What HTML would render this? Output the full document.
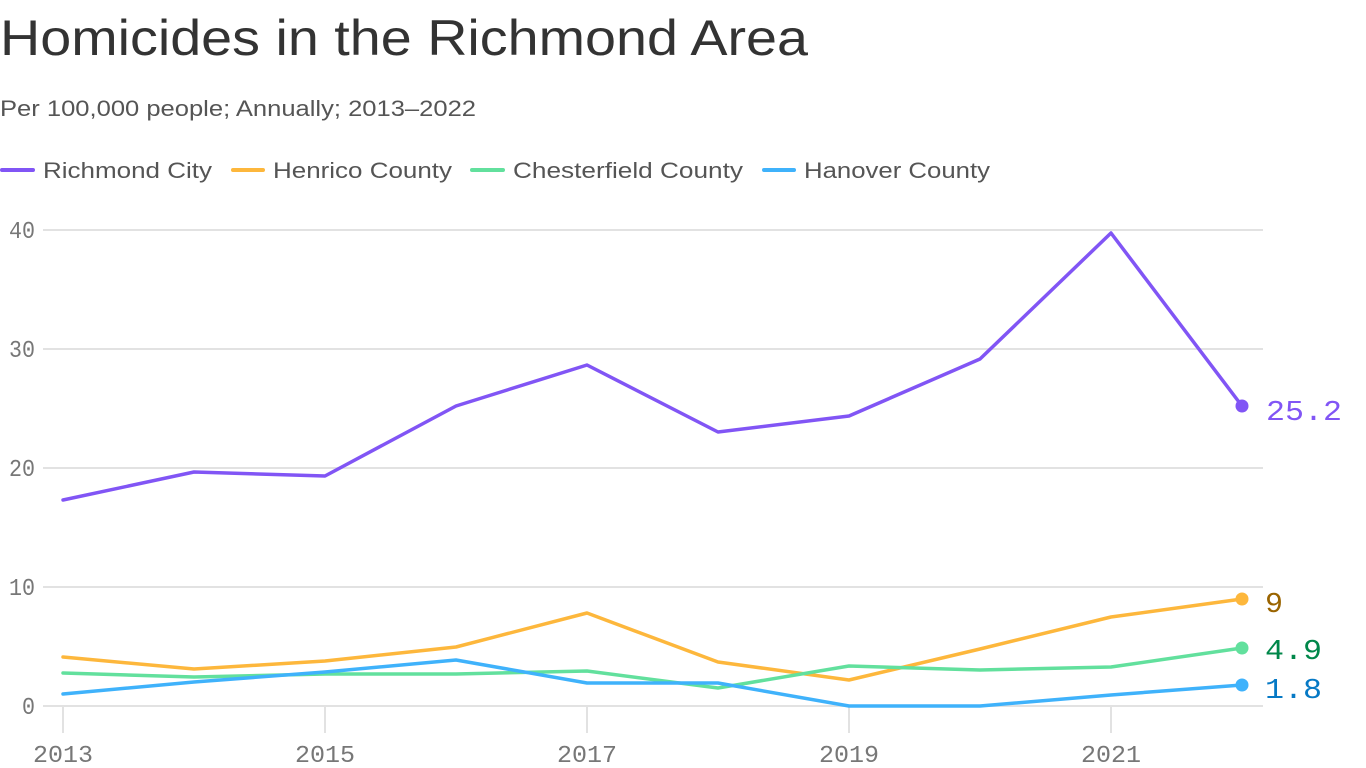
<!DOCTYPE html>
<html><head><meta charset="utf-8"><style>
html,body{margin:0;padding:0;background:#fff;}
svg{display:block;}
</style></head><body>
<svg width="1366" height="768" xmlns="http://www.w3.org/2000/svg">
<g font-family="Liberation Sans, sans-serif" fill="#333">
<text x="0" y="55" font-size="50" textLength="808" lengthAdjust="spacingAndGlyphs">Homicides in the Richmond Area</text>
<text x="0" y="116" font-size="22" fill="#555" textLength="476" lengthAdjust="spacingAndGlyphs">Per 100,000 people; Annually; 2013–2022</text>
<g font-size="22" fill="#555">
<line x1="2" y1="170" x2="33" y2="170" stroke="#8155f5" stroke-width="4" stroke-linecap="round"/>
<text x="43" y="178" textLength="169" lengthAdjust="spacingAndGlyphs">Richmond City</text>
<line x1="233" y1="170" x2="263" y2="170" stroke="#fdb73c" stroke-width="4" stroke-linecap="round"/>
<text x="273" y="178" textLength="179" lengthAdjust="spacingAndGlyphs">Henrico County</text>
<line x1="472" y1="170" x2="503" y2="170" stroke="#62e09d" stroke-width="4" stroke-linecap="round"/>
<text x="513" y="178" textLength="230" lengthAdjust="spacingAndGlyphs">Chesterfield County</text>
<line x1="764" y1="170" x2="794" y2="170" stroke="#3fb2fb" stroke-width="4" stroke-linecap="round"/>
<text x="804" y="178" textLength="186" lengthAdjust="spacingAndGlyphs">Hanover County</text>
</g>
</g>
<g stroke="#e2e2e2" stroke-width="2">
<line x1="43" y1="230" x2="1263" y2="230"/>
<line x1="43" y1="349" x2="1263" y2="349"/>
<line x1="43" y1="468" x2="1263" y2="468"/>
<line x1="43" y1="587" x2="1263" y2="587"/>
<line x1="43" y1="706" x2="1263" y2="706"/>
<line x1="63" y1="706" x2="63" y2="733"/>
<line x1="325" y1="706" x2="325" y2="733"/>
<line x1="587" y1="706" x2="587" y2="733"/>
<line x1="849" y1="706" x2="849" y2="733"/>
<line x1="1111" y1="706" x2="1111" y2="733"/>
</g>
<g font-family="Liberation Mono, monospace" font-size="24" fill="#777">
<text x="9" y="238" textLength="26" lengthAdjust="spacingAndGlyphs">40</text>
<text x="9" y="357" textLength="26" lengthAdjust="spacingAndGlyphs">30</text>
<text x="9" y="476" textLength="26" lengthAdjust="spacingAndGlyphs">20</text>
<text x="9" y="595" textLength="26" lengthAdjust="spacingAndGlyphs">10</text>
<text x="22" y="714" textLength="13" lengthAdjust="spacingAndGlyphs">0</text>
<text x="33" y="762" textLength="60" lengthAdjust="spacingAndGlyphs">2013</text>
<text x="295" y="762" textLength="60" lengthAdjust="spacingAndGlyphs">2015</text>
<text x="557" y="762" textLength="60" lengthAdjust="spacingAndGlyphs">2017</text>
<text x="819" y="762" textLength="60" lengthAdjust="spacingAndGlyphs">2019</text>
<text x="1081" y="762" textLength="60" lengthAdjust="spacingAndGlyphs">2021</text>
</g>
<g fill="none" stroke-width="3.5" stroke-linejoin="round" stroke-linecap="round">
<polyline stroke="#fdb73c" points="63,657 194,669 325,661 456,647 587,613 718,662 849,680 980,649 1111,617 1242,599"/>
<polyline stroke="#62e09d" points="63,673 194,677 325,674 456,674 587,671 718,688 849,666 980,670 1111,667 1242,648"/>
<polyline stroke="#3fb2fb" points="63,694 194,682 325,672 456,660 587,683 718,683 849,706 980,706 1111,695 1242,685"/>
<polyline stroke="#8155f5" points="63,500 194,472 325,476 456,406 587,365 718,432 849,416 980,359 1111,233 1242,406"/>
</g>
<circle cx="1242" cy="406" r="6.5" fill="#8155f5"/>
<circle cx="1242" cy="599" r="6.5" fill="#fdb73c"/>
<circle cx="1242" cy="648" r="6.5" fill="#62e09d"/>
<circle cx="1242" cy="685" r="6.5" fill="#3fb2fb"/>
<g font-family="Liberation Mono, monospace" font-size="29">
<text x="1266" y="420" fill="#8155f5" textLength="76" lengthAdjust="spacingAndGlyphs">25.2</text>
<text x="1265" y="612" fill="#9a6400" textLength="18" lengthAdjust="spacingAndGlyphs">9</text>
<text x="1265" y="659" fill="#00874a" textLength="57" lengthAdjust="spacingAndGlyphs">4.9</text>
<text x="1265" y="698" fill="#0679c5" textLength="57" lengthAdjust="spacingAndGlyphs">1.8</text>
</g>
</svg>
</body></html>
